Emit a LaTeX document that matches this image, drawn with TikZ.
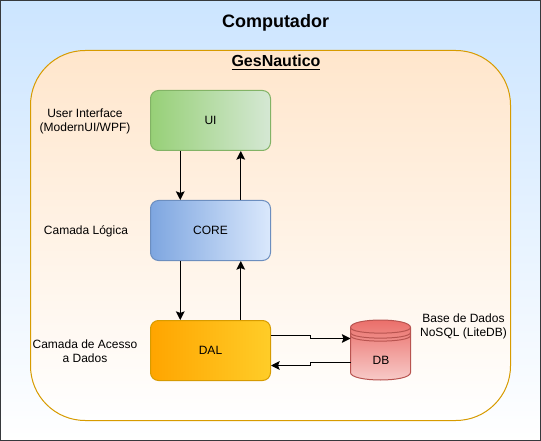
\documentclass[tikz,border=0pt]{standalone}
\usepackage{fontspec}
\setmainfont{Liberation Sans}
\usetikzlibrary{arrows.meta,calc}
\definecolor{frameC}{HTML}{36393D}
\definecolor{frameT}{HTML}{CCE5FF}
\definecolor{innerC}{HTML}{D79B00}
\definecolor{innerT}{HTML}{FFE6CC}
\definecolor{greenL}{HTML}{97D077}
\definecolor{greenR}{HTML}{D5E8D4}
\definecolor{greenC}{HTML}{82B366}
\definecolor{blueL}{HTML}{7EA6E0}
\definecolor{blueR}{HTML}{DAE8FC}
\definecolor{blueC}{HTML}{6C8EBF}
\definecolor{orangeL}{HTML}{FFA500}
\definecolor{orangeR}{HTML}{FFCD28}
\definecolor{redT}{HTML}{EA6B66}
\definecolor{redB}{HTML}{F8CECC}
\definecolor{redC}{HTML}{B85450}
\tikzset{
  px/.style={x=0.75pt,y=-0.75pt},
  layerbox/.style={rectangle,rounded corners=6pt,minimum width=90pt,minimum height=45pt,
    inner sep=0pt,line width=0.75pt,font=\fontsize{9}{11}\selectfont,text=black,text depth=0pt},
  lbl/.style={align=center,inner sep=0pt,font=\fontsize{9}{10.6}\selectfont,text=black},
  conn/.style={line width=0.8pt,draw=black,-{Stealth[length=6.5pt,width=6.5pt,inset=1.2pt]}},
}
\begin{document}
\begin{tikzpicture}[px]
\useasboundingbox (0,0) rectangle (541,441);
\node[rectangle,draw=frameC,line width=1.1pt,top color=frameT,bottom color=white,inner sep=0pt,
  minimum width=405pt,minimum height=330pt] (frame) at (270.5,220.5) {};
\node[rectangle,draw=innerC,line width=0.75pt,top color=innerT,bottom color=white,inner sep=0pt,
  rounded corners=41pt,minimum width=360pt,minimum height=277.5pt] (inner) at (270.5,235.5) {};
\node[font=\fontsize{13.5}{16}\selectfont\bfseries] (title) at (275.5,23) {Computador};
\node[font=\fontsize{12}{15}\selectfont\bfseries] (ges) at (276,62.5) {\underline{GesNautico}};
\node[layerbox,draw=greenC,left color=greenL,right color=greenR] (ui) at (210.5,120.5) {UI};
\node[layerbox,draw=blueC,left color=blueL,right color=blueR] (core) at (210.5,230.5) {CORE};
\node[layerbox,draw=innerC,left color=orangeL,right color=orangeR] (dal) at (210.5,350.5) {DAL};
\node[lbl] (lui) at (85,121) {User Interface\\(ModernUI/WPF)};
\node[lbl] (lcore) at (86,231) {Camada Lógica};
\node[lbl] (ldal) at (85,351) {Camada de Acesso\\a Dados};
\node[lbl] (ldb) at (463.5,326) {Base de Dados\\NoSQL (LiteDB)};
% cylinder
\path[draw=redC,line width=0.75pt,top color=redT,bottom color=redB]
  (350.5,327.5) .. controls (350.5,317.5) and (410.5,317.5) .. (410.5,327.5)
  -- (410.5,372.5) .. controls (410.5,382.5) and (350.5,382.5) .. (350.5,372.5) -- cycle;
\draw[redC,line width=0.75pt] (350.5,327.5) .. controls (350.5,335) and (410.5,335) .. (410.5,327.5);
\draw[redC,line width=0.75pt] (350.5,332.5) .. controls (350.5,340) and (410.5,340) .. (410.5,332.5);
\draw[redC,line width=0.75pt] (350.5,335.5) .. controls (350.5,343) and (410.5,343) .. (410.5,335.5);
\node[rectangle,minimum width=45pt,minimum height=45pt,inner sep=0pt,
  font=\fontsize{9}{11}\selectfont,text=black] (db) at (381,360) {DB};
% connectors
\draw[conn] ($(ui.south west)!0.25!(ui.south east)$) -- ($(core.north west)!0.25!(core.north east)$);
\draw[conn] ($(core.north west)!0.75!(core.north east)$) -- ($(ui.south west)!0.75!(ui.south east)$);
\draw[conn] ($(core.south west)!0.25!(core.south east)$) -- ($(dal.north west)!0.25!(dal.north east)$);
\draw[conn] ($(dal.north west)!0.75!(dal.north east)$) -- ($(core.south west)!0.75!(core.south east)$);
\coordinate (a1) at (dal.east |- 0,335.5);
\coordinate (a2) at (350.5,338.5);
\coordinate (b1) at (350.5,362.5);
\coordinate (b2) at (dal.east |- 0,365.5);
\draw[conn] (a1) -- (310.5,335.5) -- (310.5,338.5) -- (a2);
\draw[conn] (b1) -- (310.5,362.5) -- (310.5,365.5) -- (b2);
\end{tikzpicture}
\end{document}
